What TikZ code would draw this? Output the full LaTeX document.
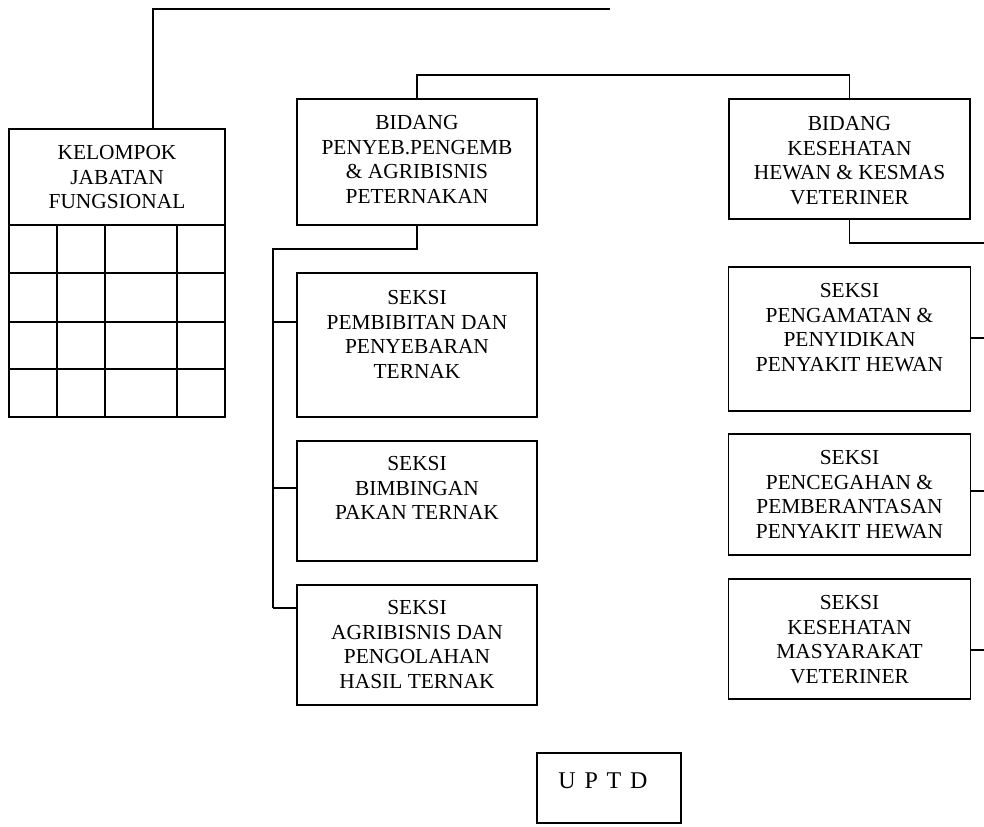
\documentclass[tikz,border=0pt]{standalone}
\usepackage{fontspec}
\setmainfont{Liberation Serif}
\usetikzlibrary{positioning}

\begin{document}
\begin{tikzpicture}[x=0.5pt,y=-0.5pt,node distance=12pt,
    box/.style={draw,line width=0.9pt,inner sep=0pt,outer sep=0pt,minimum width=120pt},
    txt/.style={align=center,inner sep=0pt,anchor=north,font=\fontsize{10.7}{12.3}\selectfont},
    link/.style={line width=0.9pt}]
    \useasboundingbox (0,0) rectangle (984,826);

    % kelompok jabatan fungsional
    \node[box,minimum width=108pt,minimum height=48pt,anchor=north west] (kel) at (9,129) {};
    \node[txt,below=8pt of kel.north] (kel-t) {KELOMPOK\\JABATAN\\FUNGSIONAL};
    \draw[link] (kel.south west) rectangle ++(216,192);
    \foreach \x in {57,105,177} \draw[link] (\x,225) -- (\x,417);
    \foreach \y in {273,322,369} \draw[link] (9,\y) -- (225,\y);

    % bidang
    \node[box,minimum height=63pt,anchor=north west] (bid1) at (297,99) {};
    \node[txt,below=8pt of bid1.north] (bid1-t) {BIDANG\\PENYEB.PENGEMB\\\& AGRIBISNIS\\PETERNAKAN};
    \node[box,minimum width=120.5pt,minimum height=60pt,right=96pt of bid1.north east,anchor=north west] (bid2) {};
    \node[txt,below=8.5pt of bid2.north] (bid2-t) {BIDANG\\KESEHATAN\\HEWAN \& KESMAS\\VETERINER};

    % seksi kiri
    \node[box,minimum height=72pt,below=24pt of bid1] (pembibitan) {};
    \node[txt,below=8.5pt of pembibitan.north] (pembibitan-t) {SEKSI\\PEMBIBITAN DAN\\PENYEBARAN\\TERNAK};
    \node[box,minimum height=60pt,below=of pembibitan] (bimbingan) {};
    \node[txt,below=7.5pt of bimbingan.north] (bimbingan-t) {SEKSI\\BIMBINGAN\\PAKAN TERNAK};
    \node[box,minimum height=60pt,below=of bimbingan] (agribisnis) {};
    \node[txt,below=7.5pt of agribisnis.north] (agribisnis-t) {SEKSI\\AGRIBISNIS DAN\\PENGOLAHAN\\HASIL TERNAK};

    % seksi kanan
    \node[box,minimum width=121pt,minimum height=72pt,below=24pt of bid2] (pengamatan) {};
    \node[txt,below=8pt of pengamatan.north] (pengamatan-t) {SEKSI\\PENGAMATAN \&\\PENYIDIKAN\\PENYAKIT HEWAN};
    \node[box,minimum width=121pt,minimum height=60.5pt,below=11.5pt of pengamatan] (pencegahan) {};
    \node[txt,below=8pt of pencegahan.north] (pencegahan-t) {SEKSI\\PENCEGAHAN \&\\PEMBERANTASAN\\PENYAKIT HEWAN};
    \node[box,minimum width=121pt,minimum height=60pt,below=of pencegahan] (kesmavet) {};
    \node[txt,below=8pt of kesmavet.north] (kesmavet-t) {SEKSI\\KESEHATAN\\MASYARAKAT\\VETERINER};

    % uptd
    \node[box,minimum width=72pt,minimum height=35pt,anchor=north west] (uptd) at (537,753) {};
    \node[txt,font=\fontsize{12}{14}\selectfont,below=9.5pt of uptd.north,xshift=-3pt] (uptd-t) {\spaceskip=4.4pt\relax U P T D};

    % garis
    \coordinate (top) at (610,9);
    \coordinate (redge) at (984,243);
    \coordinate (s3) at ([xshift=-12pt,yshift=-11.5pt]agribisnis.north west);
    \draw[link] ([xshift=18pt]kel.north) |- (top);
    \draw[link] (bid1.north) -- ++(0,-24) -| (bid2.north);
    \draw[link] (bid1.south) -- ++(0,24) -| (s3);
    \foreach \n/\d in {pembibitan/24.5pt,bimbingan/23.5pt,agribisnis/11.5pt}
      \draw[link] ([yshift=-\d]\n.north west) -- ++(-24,0);
    \draw[link] (bid2.south) |- (redge);
    \foreach \n/\d in {pengamatan/35.5pt,pencegahan/28.5pt,kesmavet/35.5pt}
      \draw[link] ([yshift=-\d]\n.north east) -- ++(16,0);
\end{tikzpicture}
\end{document}
